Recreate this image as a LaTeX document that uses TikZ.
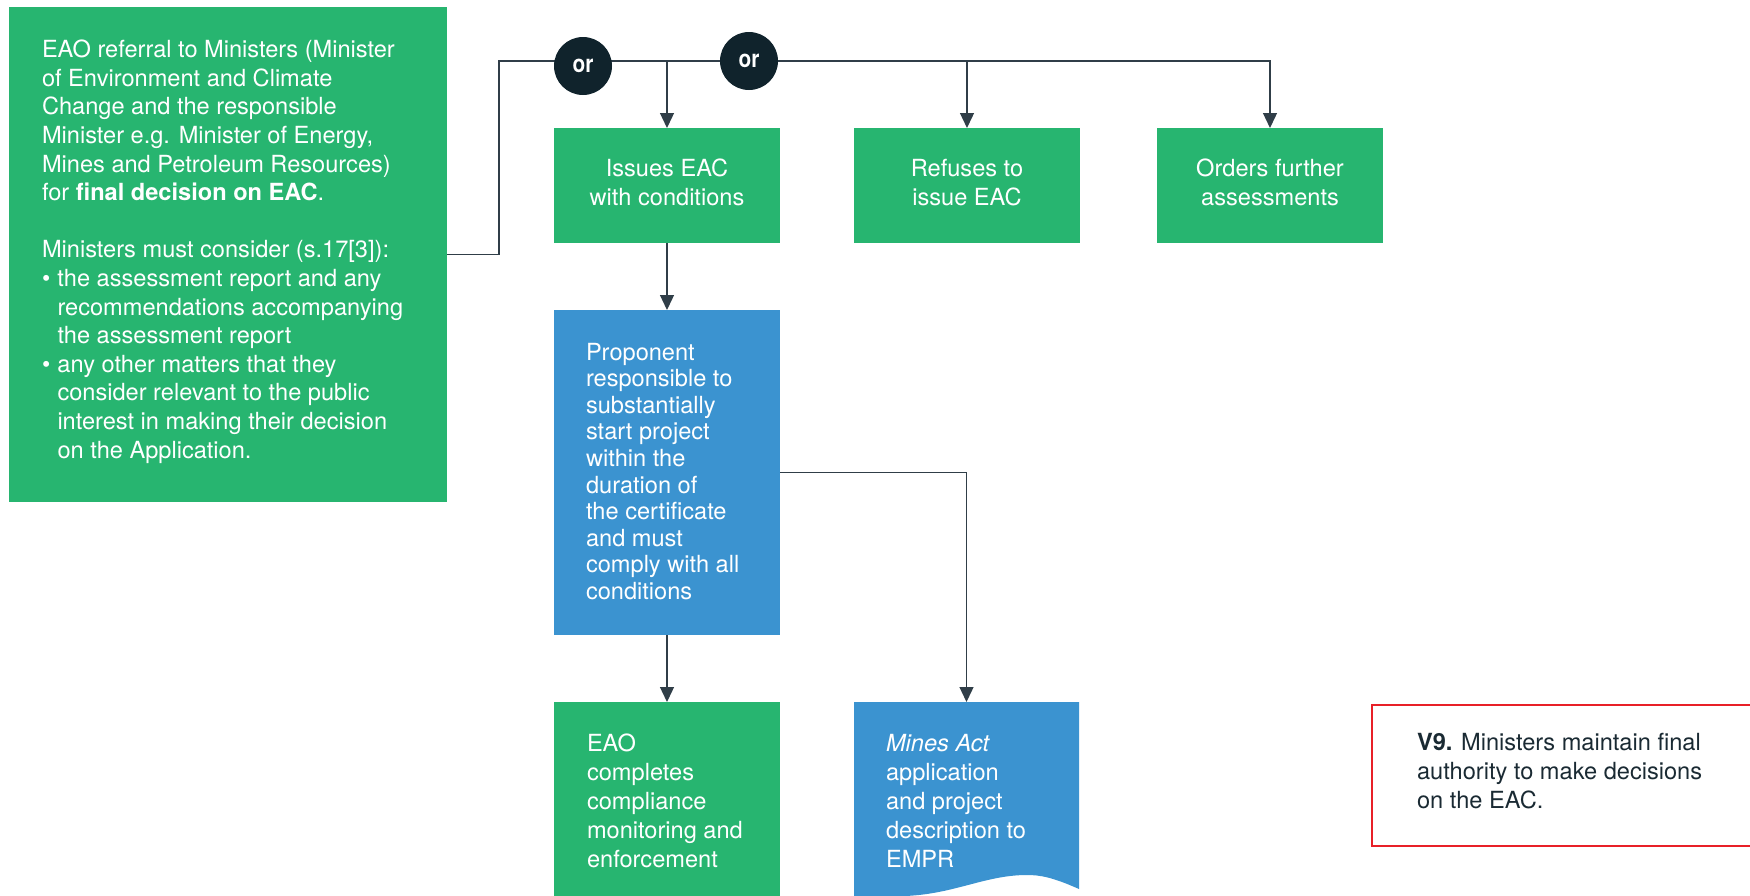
\documentclass[tikz,border=0pt]{standalone}
\usepackage{fontspec}
\setmainfont{TeX Gyre Heros}
\usepackage{graphicx}
\usetikzlibrary{arrows.meta}

\definecolor{eaogreen}{RGB}{39,181,112}
\definecolor{eaoblue}{RGB}{59,147,208}
\definecolor{ordark}{RGB}{16,35,44}
\definecolor{linegray}{RGB}{48,62,72}
\definecolor{notered}{RGB}{232,32,40}
\definecolor{notetext}{RGB}{26,42,51}

\newcommand\bulitem{\makebox[15.5pt][l]{\textbullet}}
\newcommand\bulcont{\hspace*{15.5pt}}

\tikzset{
  panel/.style={rectangle, inner sep=0pt, outer sep=0pt, draw=none},
  greenpanel/.style={panel, fill=eaogreen},
  bluepanel/.style={panel, fill=eaoblue},
  boxtext/.style={inner sep=0pt, outer sep=0pt, text=white, align=left,
    font={\fontsize{23.6}{28.6}\selectfont}},
  centertext/.style={boxtext, align=center},
  flow/.style={draw=linegray, line width=1.3pt},
  flowarrow/.style={flow, -{Triangle[length=15pt,width=14pt]}},
  orbadge/.style={circle, fill=ordark, minimum size=58pt, inner sep=0pt,
    text=white, font={\fontsize{24.5}{26}\selectfont\bfseries}},
}

\begin{document}
\begin{tikzpicture}[x=1pt,y=-1pt]
\useasboundingbox (0,0) rectangle (1750,895);
\clip (0,0) rectangle (1750,895);

% boxes
\node[greenpanel, minimum width=438pt, minimum height=495pt] (ref) at (228,254.5) {};
\node[greenpanel, minimum width=226pt, minimum height=115pt] (issue) at (667,185.5) {};
\node[greenpanel, minimum width=226pt, minimum height=115pt] (refuse) at (967,185.5) {};
\node[greenpanel, minimum width=226pt, minimum height=115pt] (further) at (1270,185.5) {};
\node[bluepanel, minimum width=226pt, minimum height=325pt] (prop) at (667,472.5) {};
\node[greenpanel, minimum width=226pt, minimum height=203pt] (comp) at (667,803.5) {};
\node[panel, minimum width=225pt, minimum height=193pt] (mines) at (966.5,798.5) {};
\node[panel, draw=notered, line width=2.2pt, minimum width=398pt, minimum height=141pt] (note) at (1571,775.5) {};

% document shape with a wavy lower edge
\fill[eaoblue] (mines.north west) -- (mines.north east) -- (1079,889)
  .. controls (1052,877) and (1040,875) .. (1027,875)
  .. controls (985,875) and (955,894) .. (905,896)
  -- (854,896) -- cycle;

% texts (each placed by the baseline of its last line)
\node[boxtext, anchor=base west] (reftext) at (42,458) {EAO referral to Ministers (Minister\\
of Environment and Climate\\
Change and the responsible\\
Minister e.g. Minister of Energy,\\
Mines and Petroleum Resources)\\
for \textbf{final decision on EAC}.\\[28.6pt]
Ministers must consider (s.17[3]):\\
\bulitem the assessment report and any\\
\bulcont recommendations accompanying\\
\bulcont the assessment report\\
\bulitem any other matters that they\\
\bulcont consider relevant to the public\\
\bulcont interest in making their decision\\
\bulcont on the Application.};

\node[centertext, anchor=base] (issuetext) at (667,205) {Issues EAC\\with conditions};
\node[centertext, anchor=base] (refusetext) at (967,205) {Refuses to\\issue EAC};
\node[centertext, anchor=base] (furthertext) at (1270,205) {Orders further\\assessments};

\node[boxtext, anchor=base west, font={\fontsize{23.6}{26.6}\selectfont}] (proptext) at (586,599.4)
  {Proponent\\responsible to\\substantially\\start project\\within the\\duration of\\the certificate\\and must\\comply with all\\conditions};

\node[boxtext, anchor=base west, font={\fontsize{23.6}{28.9}\selectfont}] (comptext) at (587,867)
  {EAO\\completes\\compliance\\monitoring and\\enforcement};
\node[boxtext, anchor=base west, font={\fontsize{23.6}{28.9}\selectfont}] (minestext) at (886,867)
  {\textit{Mines Act}\\application\\and project\\description to\\EMPR};

\node[boxtext, anchor=base west, text=notetext, font={\fontsize{23.6}{29}\selectfont}] (notetext) at (1417,808)
  {\textbf{V9.} Ministers maintain final\\authority to make decisions\\on the EAC.};

% connectors
\coordinate (top) at (499,61);
\draw[flowarrow] (ref.east) -| (top) -| (further.north);
\draw[flowarrow] (issue.north |- top) -- (issue.north);
\draw[flowarrow] (refuse.north |- top) -- (refuse.north);
\draw[flowarrow] (issue.south) -- (prop.north);
\draw[flowarrow] (prop.south) -- (comp.north);
\draw[flowarrow] (prop.east) -| (mines.north);

% decision badges
\node[orbadge] (or1) at (583,66) {\scalebox{0.85}[1]{or}};
\node[orbadge] (or2) at (749,61) {\scalebox{0.85}[1]{or}};
\end{tikzpicture}
\end{document}
